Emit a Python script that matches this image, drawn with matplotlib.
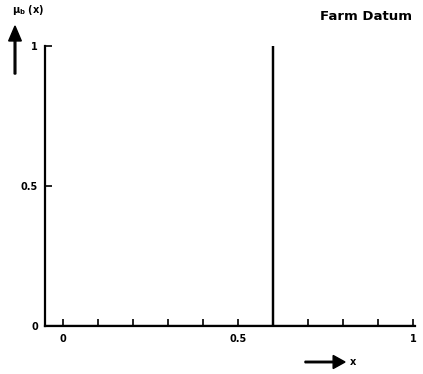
import matplotlib.pyplot as plt

plt.rcParams['font.family'] = 'DejaVu Sans'
plt.rcParams['font.weight'] = 'bold'
plt.rcParams['mathtext.default'] = 'bf'

# crisp farm datum: membership 1 at x = 0.6, 0 elsewhere
datum = 0.6
x_vals = [-0.05, datum, datum, datum, 1.005]
mu_vals = [0, 0, 1, 0, 0]

x_ticks = [0, 0.1, 0.2, 0.3, 0.4, 0.5, 0.6, 0.7, 0.8, 0.9, 1.0]
x_labels = ['0', '', '', '', '', '0.5', '', '', '', '', '1']
y_ticks = [0, 0.5, 1]
y_labels = ['0', '0.5', '1']

fig = plt.figure(figsize=(4.23, 3.74), dpi=100)
ax = fig.add_axes([45 / 423, 1 - 326 / 374, 370 / 423, 280 / 374])

ax.plot(x_vals, mu_vals, color='black', lw=1.6, solid_joinstyle='miter')

ax.set_xlim(-0.05, 1.005)
ax.set_ylim(0, 1)
ax.spines['top'].set_visible(False)
ax.spines['right'].set_visible(False)
for s in ('left', 'bottom'):
    ax.spines[s].set_linewidth(1.6)

ax.set_xticks(x_ticks)
ax.set_xticklabels(x_labels)
ax.set_yticks(y_ticks)
ax.set_yticklabels(y_labels)
ax.tick_params(direction='in', length=5, width=1.2, labelsize=7, pad=6)
ax.tick_params(axis='y', pad=5)

fig.text(412 / 423, 1 - 17 / 374, 'Farm Datum', ha='right', va='center',
         fontsize=9.5, fontweight='bold')

# axis arrows
fig.text(12 / 423, 1 - 10 / 374, 'μ$_b$ (x)', ha='left', va='center',
         fontsize=7, fontweight='bold')
fig.patches.append(plt.matplotlib.patches.FancyArrow(
    15 / 423, 1 - 74 / 374, 0, 48 / 374, width=0.004, head_width=0.03,
    head_length=0.04, length_includes_head=True, color='black',
    transform=fig.transFigure))
fig.patches.append(plt.matplotlib.patches.FancyArrow(
    305 / 423, 1 - 362 / 374, 40 / 423, 0, width=0.004, head_width=0.035,
    head_length=0.028, length_includes_head=True, color='black',
    transform=fig.transFigure))
fig.text(350 / 423, 1 - 362 / 374, 'x', ha='left', va='center',
         fontsize=7, fontweight='bold')

fig.savefig('out.png', dpi=100)
